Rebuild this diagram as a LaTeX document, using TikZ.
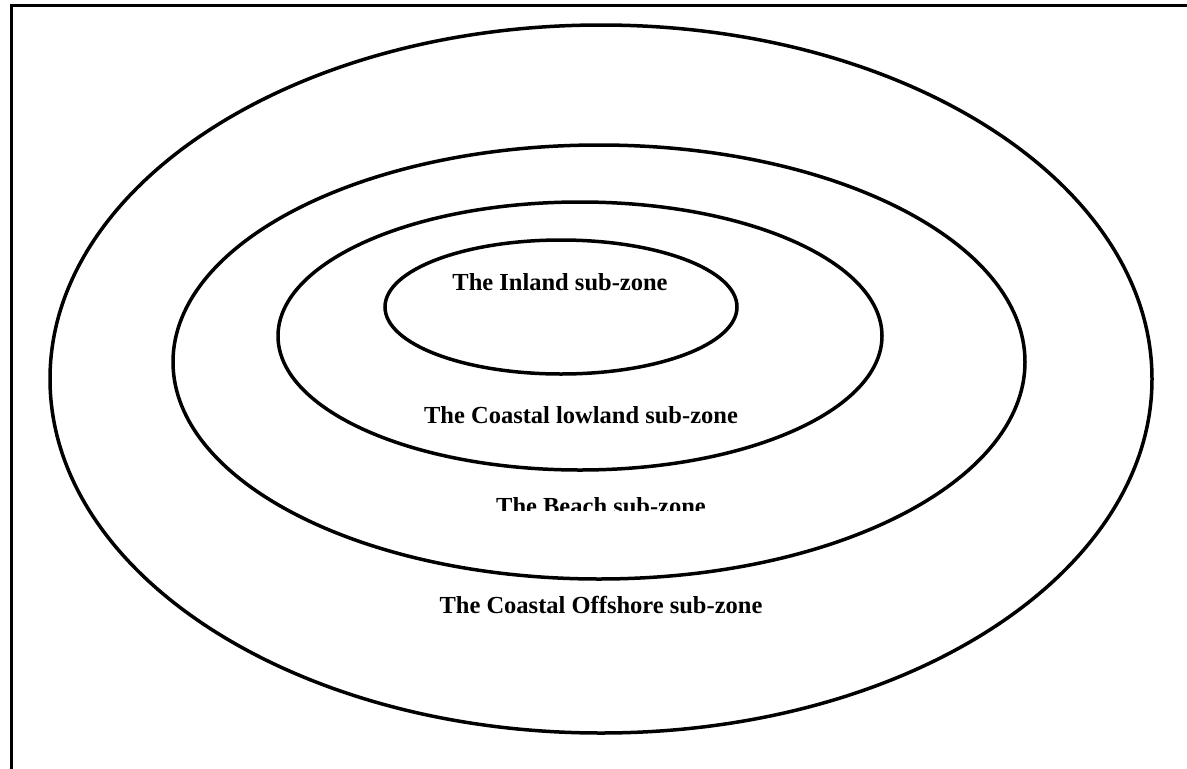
\documentclass[tikz,border=0pt]{standalone}
\usepackage{fontspec}
\setmainfont{Liberation Serif}
\begin{document}
\begin{tikzpicture}[x=1pt,y=-1pt,
  zone/.style={draw=black,line width=3.5pt},
  lbl/.style={font=\fontsize{24.5}{28}\selectfont\bfseries,inner sep=0pt,anchor=base}]
\useasboundingbox (0,0) rectangle (1187,769);
% frame (top and left sides)
\coordinate (fl) at (11.5,769);
\coordinate (fc) at (11.5,5.5);
\coordinate (fr) at (1187,5.5);
\draw[line width=3pt] (fl) -- (fc) -- (fr);
% zones
\draw[zone] (601,379) ellipse [x radius=551, y radius=354];
\draw[zone] (599,362) ellipse [x radius=426, y radius=217];
\draw[zone] (580,336) ellipse [x radius=302, y radius=134];
\draw[zone] (561,307) ellipse [x radius=176, y radius=67];
% labels
\node[lbl] (inland) at (560,290) {The Inland sub-zone};
\node[lbl] (lowland) at (581,423) {The Coastal lowland sub-zone};
\begin{scope}
\clip (400,480) rectangle (800,510);
\node[lbl] (beach) at (601,514) {The Beach sub-zone};
\end{scope}
\node[lbl] (offshore) at (601,613) {The Coastal Offshore sub-zone};
\end{tikzpicture}
\end{document}
